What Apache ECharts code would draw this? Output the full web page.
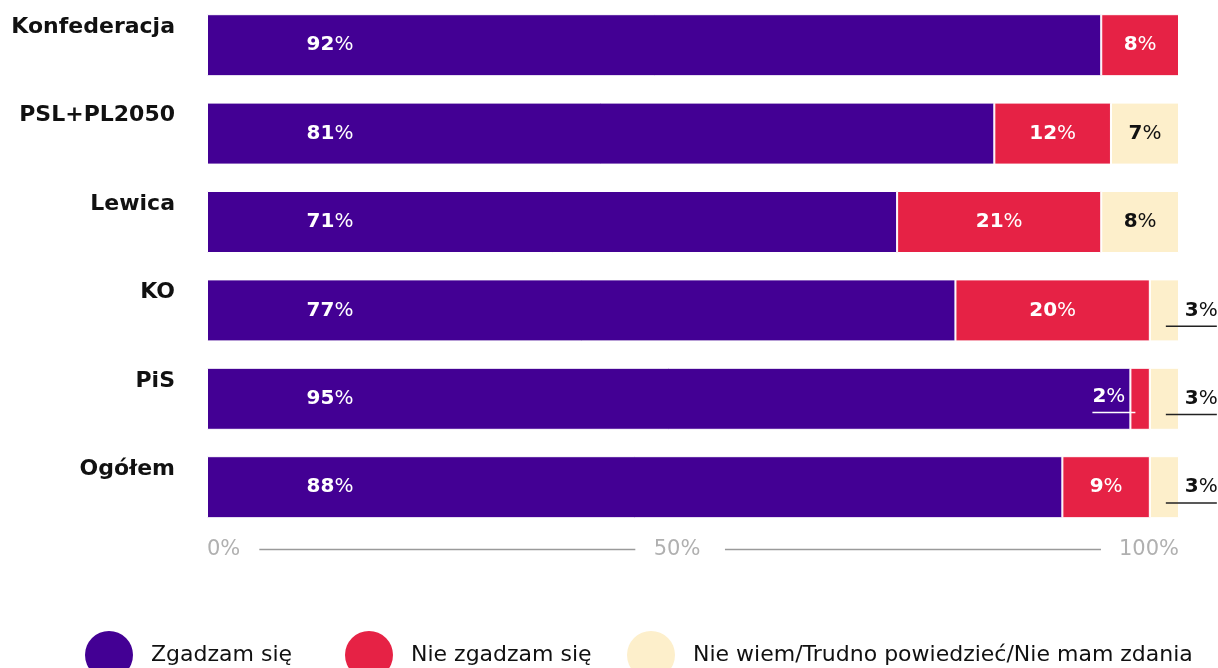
<!DOCTYPE html>
<html>
<head>
<meta charset="utf-8">
<script src="https://cdn.jsdelivr.net/npm/echarts@6/dist/echarts.min.js"></script>
<style>
html,body{margin:0;padding:0;background:#fff;}
#chart{width:1218px;height:668px;}
</style>
</head>
<body>
<div id="chart"></div>
<script>
const categories = ['Konfederacja', 'PSL+PL2050', 'Lewica', 'KO', 'PiS', 'Ogółem'];
const seriesNames = ['Zgadzam się', 'Nie zgadzam się', 'Nie wiem/Trudno powiedzieć/Nie mam zdania'];
const agree = [92, 81, 71, 77, 95, 88];
const disagree = [8, 12, 21, 20, 2, 9];
const dontKnow = [0, 7, 8, 3, 3, 3];
const axisTicks = [0, 50, 100];

const colors = ['#430094', '#E62245', '#FDEFCB'];
const FONT = 'DejaVu Sans';

function numRich(color) {
  return {
    n: { fontFamily: FONT, fontSize: 20, fontWeight: 'bold', color: color },
    p: { fontFamily: FONT, fontSize: 20, fontWeight: 'normal', color: color }
  };
}
function valText(v) { return '{n|' + v + '}{p|%}'; }

function underlineLabel(v, color, lineColor, pos, padLeft, lineWidth) {
  return {
    show: true,
    position: pos,
    align: 'left',
    verticalAlign: 'top',
    formatter: '{t|' + v + '}{tp|%}\n{u| }',
    rich: {
      t: { fontFamily: FONT, fontSize: 20, fontWeight: 'bold', color: color, lineHeight: 30, padding: [0, 0, 0, padLeft] },
      tp: { fontFamily: FONT, fontSize: 20, color: color, lineHeight: 30 },
      u: { width: lineWidth, height: 1.5, lineHeight: 1.5, fontSize: 1, backgroundColor: lineColor }
    }
  };
}

function makeData(values, kind) {
  return values.map(function (v) {
    const item = { value: v };
    if (v === 0) {
      item.label = { show: false };
    } else if (kind === 'disagree' && v < 5) {
      item.label = underlineLabel(v, '#fff', '#fff', [-38, 14], 0, 43);
    } else if (kind === 'dk' && v < 5) {
      item.label = underlineLabel(v, '#111', '#222', [16, 16], 19, 51);
    }
    return item;
  });
}

const chart = echarts.init(document.getElementById('chart'));

const baseLabel = function (color) {
  return {
    show: true,
    formatter: function (p) { return valText(p.value); },
    rich: numRich(color)
  };
};

const axisGray = '#b0b0b0';
const lineGray = '#9a9a9a';

const option = {
  animation: false,
  backgroundColor: '#fff',
  grid: { left: 207, right: 39, top: 1, bottom: 136.6, containLabel: false },
  xAxis: {
    type: 'value',
    min: 0,
    max: 100,
    interval: 50,
    offset: 18,
    axisLine: { show: false },
    axisTick: { show: false },
    splitLine: { show: false },
    axisLabel: {
      margin: 0,
      verticalAlign: 'middle',
      alignMinLabel: 'left',
      alignMaxLabel: 'right',
      formatter: function (v) {
        if (v === axisTicks[0]) return '{a|' + v + '%}{l| }';
        if (v === axisTicks[2]) return '{l| }{c|' + v + '%}';
        return '{b|' + v + '%}{s| }';
      },
      rich: {
        a: { fontFamily: FONT, fontSize: 21, color: axisGray, padding: [0, 19, 0, 0] },
        b: { fontFamily: FONT, fontSize: 21, color: axisGray },
        c: { fontFamily: FONT, fontSize: 21, color: axisGray, padding: [0, 0, 0, 18] },
        l: { width: 376, height: 1.5, lineHeight: 1.5, fontSize: 1, backgroundColor: lineGray },
        s: { width: 32, fontSize: 21 }
      }
    }
  },
  yAxis: {
    type: 'category',
    data: categories,
    inverse: true,
    axisLine: { show: false },
    axisTick: { show: false },
    axisLabel: {
      margin: 32,
      formatter: function (v) { return '{l|' + v + '}'; },
      rich: {
        l: { fontFamily: FONT, fontSize: 22, fontWeight: 'bold', color: '#111', padding: [0, 0, 36, 0] }
      }
    }
  },
  legend: seriesNames.map(function (name, i) {
    return {
      data: [name],
      left: [85, 345, 627][i],
      top: 631,
      padding: 0,
      itemWidth: 48,
      itemHeight: 48,
      icon: 'circle',
      selectedMode: false,
      itemStyle: { borderWidth: 0 },
      textStyle: { fontFamily: FONT, fontSize: 22, color: '#111', padding: [0, 0, 10, 13] }
    };
  }),
  series: [
    {
      name: seriesNames[0],
      type: 'bar',
      stack: 'total',
      barWidth: 62,
      data: makeData(agree, 'agree'),
      itemStyle: { color: colors[0], borderColor: '#fff', borderWidth: 1 },
      label: Object.assign(baseLabel('#fff'), { position: [123, '50%'], align: 'center', verticalAlign: 'middle' })
    },
    {
      name: seriesNames[1],
      type: 'bar',
      stack: 'total',
      barWidth: 62,
      data: makeData(disagree, 'disagree'),
      itemStyle: { color: colors[1], borderColor: '#fff', borderWidth: 1 },
      label: Object.assign(baseLabel('#fff'), { position: 'inside' })
    },
    {
      name: seriesNames[2],
      type: 'bar',
      stack: 'total',
      barWidth: 62,
      data: makeData(dontKnow, 'dk'),
      itemStyle: { color: colors[2], borderColor: '#fff', borderWidth: 1 },
      label: Object.assign(baseLabel('#111'), { position: 'inside' })
    }
  ]
};

chart.setOption(option);
</script>
</body>
</html>
